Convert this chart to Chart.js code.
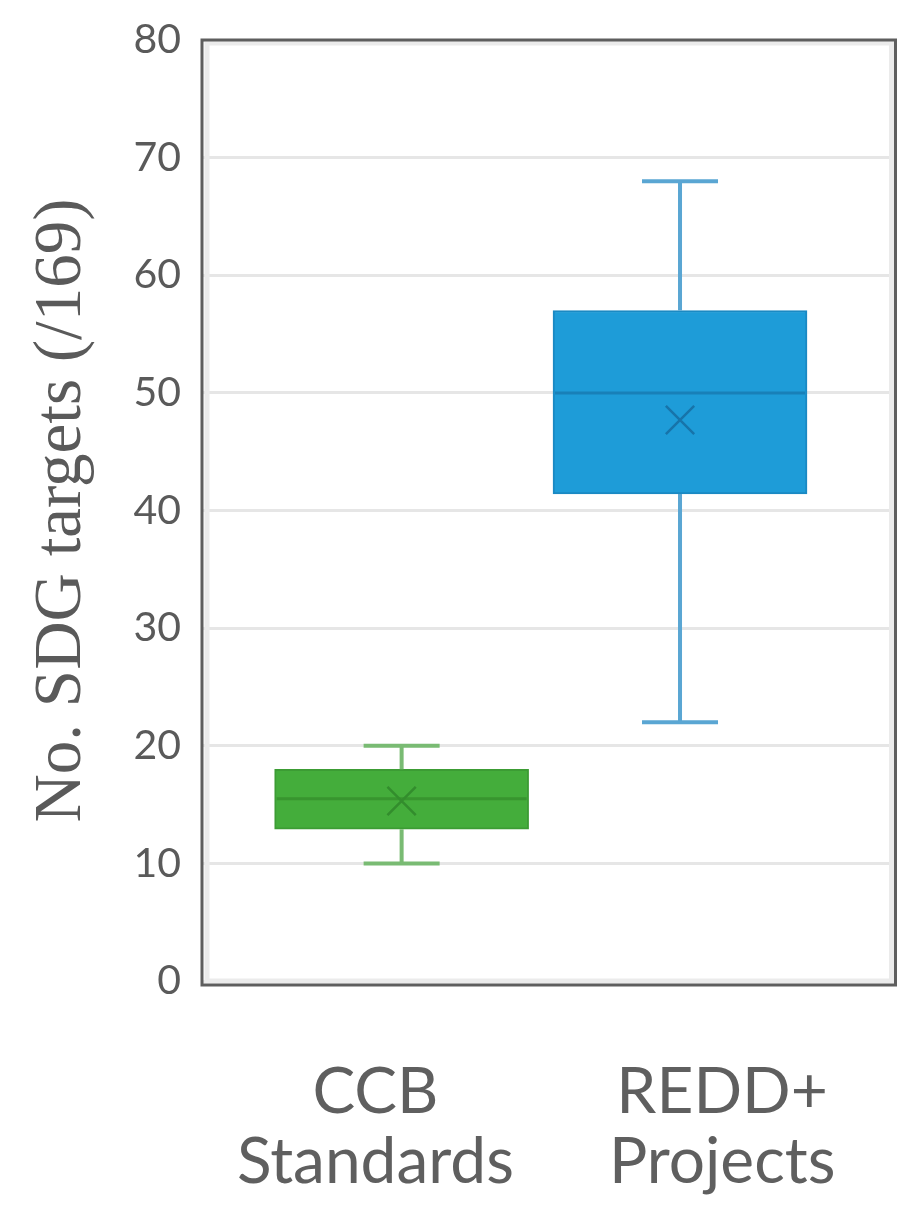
<!DOCTYPE html>
<html>
<head>
<meta charset="utf-8">
<script src="https://cdn.jsdelivr.net/npm/chart.js@4"></script>
<style>
  html, body { margin: 0; padding: 0; background: #ffffff; }
  #wrap { width: 918px; height: 1222px; position: relative; }
</style>
</head>
<body>
<div id="wrap"><canvas id="c" width="918" height="1222"></canvas></div>
<script>
// ---- data ----
const categories = [['CCB', 'Standards'], ['REDD+', 'Projects']];
const whiskerMin = [10, 22];
const q1 = [12.9, 41.4];
const median = [15.5, 50];
const q3 = [18, 57];
const whiskerMax = [20, 68];
const means = [15.3, 47.7];
const yTicks = [0, 10, 20, 30, 40, 50, 60, 70, 80];
const yTitle = 'No. SDG targets (/169)';

// ---- styles ----
const fillColors = ['#44ad3b', '#1e9cd8'];
const edgeColors = ['#3c9c34', '#1a89c3'];
const medianColors = ['#38952f', '#1880b8'];
const whiskerColors = ['#79bb73', '#5aa6d3'];
const meanColors = ['#338d2d', '#1774aa'];

const boxDetails = {
  id: 'boxDetails',
  afterDatasetDraw(chart, args) {
    if (args.index !== 0) return;
    const ctx = chart.ctx;
    const xs = chart.scales.xb, ys = chart.scales.y;
    const capHalf = 38, boxHalf = 127;
    categories.forEach((c, i) => {
      const x = xs.getPixelForValue(i);
      ctx.save();
      ctx.lineCap = 'butt';
      // whiskers
      ctx.strokeStyle = whiskerColors[i];
      ctx.lineWidth = 4;
      ctx.beginPath();
      ctx.moveTo(x, ys.getPixelForValue(q3[i]));
      ctx.lineTo(x, ys.getPixelForValue(whiskerMax[i]));
      ctx.moveTo(x, ys.getPixelForValue(q1[i]));
      ctx.lineTo(x, ys.getPixelForValue(whiskerMin[i]));
      ctx.stroke();
      ctx.beginPath();
      ctx.moveTo(x - capHalf, ys.getPixelForValue(whiskerMax[i]));
      ctx.lineTo(x + capHalf, ys.getPixelForValue(whiskerMax[i]));
      ctx.moveTo(x - capHalf, ys.getPixelForValue(whiskerMin[i]));
      ctx.lineTo(x + capHalf, ys.getPixelForValue(whiskerMin[i]));
      ctx.stroke();
      // median
      ctx.strokeStyle = medianColors[i];
      ctx.lineWidth = 3;
      ctx.beginPath();
      ctx.moveTo(x - boxHalf + 2, ys.getPixelForValue(median[i]));
      ctx.lineTo(x + boxHalf - 2, ys.getPixelForValue(median[i]));
      ctx.stroke();
      ctx.restore();
    });
  },
  afterDraw(chart) {
    const ctx = chart.ctx;
    const a = chart.chartArea;
    ctx.save();
    // light inner band
    ctx.strokeStyle = '#ebebeb';
    ctx.lineWidth = 5;
    ctx.strokeRect(a.left + 5, a.top + 3, a.right - a.left - 9, a.bottom - a.top - 3);
    // dark frame
    ctx.strokeStyle = '#5e5e5e';
    ctx.lineWidth = 3;
    ctx.strokeRect(a.left, a.top, a.right - a.left, a.bottom - a.top + 4);
    ctx.restore();
  }
};

function noPad(s) { s.paddingTop = 0; s.paddingBottom = 0; }

new Chart(document.getElementById('c'), {
  type: 'bar',
  data: {
    labels: categories,
    datasets: [
      {
        type: 'bar',
        label: 'IQR',
        xAxisID: 'xb',
        yAxisID: 'y',
        order: 2,
        data: categories.map((c, i) => ({ x: i, y: [q1[i], q3[i]] })),
        backgroundColor: fillColors,
        borderColor: edgeColors,
        borderWidth: 2,
        borderSkipped: false,
        barThickness: 254
      },
      {
        type: 'scatter',
        label: 'Mean',
        xAxisID: 'xb',
        yAxisID: 'y',
        order: 1,
        data: categories.map((c, i) => ({ x: i, y: means[i] })),
        pointStyle: 'crossRot',
        pointRadius: 20,
        pointBorderWidth: 2.5,
        borderColor: meanColors,
        pointBorderColor: meanColors,
        showLine: false
      }
    ]
  },
  options: {
    responsive: false,
    animation: false,
    events: [],
    layout: { padding: { top: 40, right: 19, left: 0, bottom: 0 } },
    plugins: { legend: { display: false }, tooltip: { enabled: false } },
    scales: {
      x: {
        type: 'category',
        offset: true,
        grid: { display: false, drawTicks: false },
        border: { display: false },
        ticks: {
          color: '#5f5f5f',
          font: { family: 'Lato', size: 64, lineHeight: 1.1 },
          padding: 76,
          maxRotation: 0,
          autoSkip: false
        },
        afterFit(s) { s.height = 241; noPad(s); }
      },
      xb: {
        type: 'linear',
        display: false,
        offset: false,
        grid: { offset: false },
        min: -0.717,
        max: 1.774,
        afterFit(s) { noPad(s); }
      },
      y: {
        type: 'linear',
        min: 0,
        max: 80,
        afterBuildTicks(s) { s.ticks = yTicks.map(v => ({ value: v })); },
        grid: { color: '#e6e6e6', lineWidth: 3, drawTicks: false },
        border: { display: false },
        ticks: {
          color: '#5a5a5a',
          font: { family: 'Lato', size: 41 },
          padding: 21
        },
        title: {
          display: true,
          text: yTitle,
          color: '#5a5a5a',
          font: { family: 'Liberation Serif', size: 67, lineHeight: 1.2 },
          padding: { top: 22, bottom: 0 }
        },
        afterFit(s) { s.width = 202; noPad(s); }
      }
    }
  },
  plugins: [boxDetails]
});
</script>
</body>
</html>
